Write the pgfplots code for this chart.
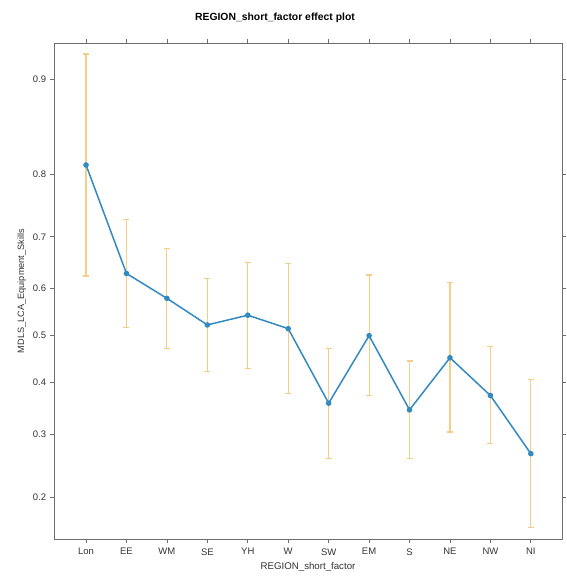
\documentclass[border=0pt]{standalone}
\usepackage{pgfplots}
\pgfplotsset{compat=1.18}
\usepackage{fontspec}
\setmainfont{Liberation Sans}
\definecolor{lineblue}{RGB}{50,138,192}
\definecolor{errorange}{RGB}{244,206,135}
\definecolor{axisgray}{RGB}{110,110,110}
\begin{document}
\begin{tikzpicture}
\begin{axis}[
  scale only axis,
  width=507bp, height=495bp,
  xmin=-0.79, xmax=11.77,
  ymin=0.148, ymax=0.9248,
  y coord trafo/.code={\pgfmathparse{ln(#1/(1-#1))}},
  ytick={0.2,0.3,0.4,0.5,0.6,0.7,0.8,0.9},
  yticklabels={0.2,0.3,0.4,0.5,0.6,0.7,0.8,0.9},
  xtick={0,1,2,3,4,5,6,7,8,9,10,11},
  xticklabels={Lon,EE,WM,SE,YH,W,SW,EM,S,NE,NW,NI},
  xtick pos=both, ytick pos=both,
  tick align=outside,
  major tick length=4.5bp,
  tick style={axisgray, line width=0.8bp},
  axis line style={axisgray, line width=0.8bp},
  ticklabel style={font=\fontsize{9.5}{11}\selectfont, text=black!80},
  xticklabel style={yshift=-1.5bp},
  xlabel={REGION\_short\_factor},
  ylabel={MDLS\_LCA\_Equipment\_Skills},
  xlabel style={font=\fontsize{9.7}{11}\selectfont, text=black!80},
  ylabel style={font=\fontsize{9.2}{11}\selectfont, text=black!80},
  title={REGION\_short\_factor effect plot},
  title style={font=\bfseries\fontsize{10.4}{12}\selectfont, yshift=11bp, xshift=-33bp},
  clip=false,
]
% confidence intervals (lower, upper)
\addplot[errorange, line width=1.1bp, mark=-, mark size=3bp, mark options={line width=1.1bp}] coordinates {(0,0.625) (0,0.918)};
\addplot[errorange, line width=1.1bp, mark=-, mark size=3bp, mark options={line width=1.1bp}] coordinates {(1,0.518) (1,0.730)};
\addplot[errorange, line width=1.1bp, mark=-, mark size=3bp, mark options={line width=1.1bp}] coordinates {(2,0.4725) (2,0.679)};
\addplot[errorange, line width=1.1bp, mark=-, mark size=3bp, mark options={line width=1.1bp}] coordinates {(3,0.4236) (3,0.6206)};
\addplot[errorange, line width=1.1bp, mark=-, mark size=3bp, mark options={line width=1.1bp}] coordinates {(4,0.4305) (4,0.652)};
\addplot[errorange, line width=1.1bp, mark=-, mark size=3bp, mark options={line width=1.1bp}] coordinates {(5,0.378) (5,0.649)};
\addplot[errorange, line width=1.1bp, mark=-, mark size=3bp, mark options={line width=1.1bp}] coordinates {(6,0.258) (6,0.473)};
\addplot[errorange, line width=1.1bp, mark=-, mark size=3bp, mark options={line width=1.1bp}] coordinates {(7,0.374) (7,0.627)};
\addplot[errorange, line width=1.1bp, mark=-, mark size=3bp, mark options={line width=1.1bp}] coordinates {(8,0.258) (8,0.4454)};
\addplot[errorange, line width=1.1bp, mark=-, mark size=3bp, mark options={line width=1.1bp}] coordinates {(9,0.304) (9,0.611)};
\addplot[errorange, line width=1.1bp, mark=-, mark size=3bp, mark options={line width=1.1bp}] coordinates {(10,0.283) (10,0.4768)};
\addplot[errorange, line width=1.1bp, mark=-, mark size=3bp, mark options={line width=1.1bp}] coordinates {(11,0.1614) (11,0.4069)};
% fitted values
\addplot[lineblue, line width=1.5bp, mark=*, mark size=2bp, mark options={fill=lineblue}] coordinates {
  (0,0.812) (1,0.630) (2,0.579) (3,0.5226) (4,0.5434) (5,0.5146)
  (6,0.3587) (7,0.4996) (8,0.3456) (9,0.4524) (10,0.374) (11,0.2662)
};
\pgfplotsinvokeforeach{0,...,11}{
  \coordinate (t#1) at (axis cs:#1,0.9248);
}
\coordinate (bl) at (rel axis cs:0,0);
\coordinate (tr) at (rel axis cs:1,1);
\end{axis}
% top ticks (lattice style)
\foreach \i in {0,...,11}{
  \draw[axisgray, line width=0.8bp] (t\i) -- ++(0pt,4.5bp);
}
\path ([shift={(-54bp,-39bp)}]bl) rectangle ([shift={(3bp,43bp)}]tr);
\end{tikzpicture}
\end{document}
